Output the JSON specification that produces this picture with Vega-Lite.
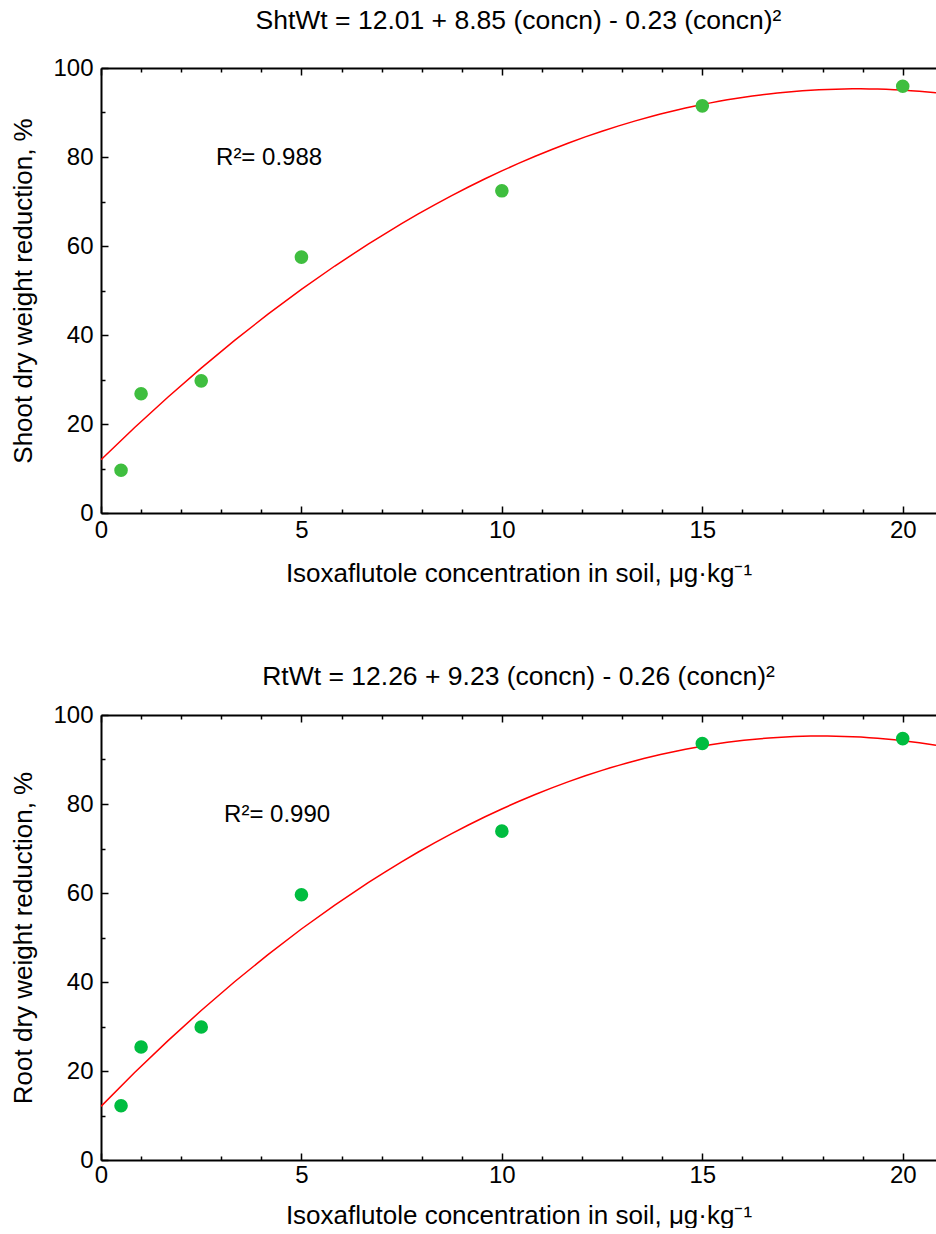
{
  "$schema": "https://vega.github.io/schema/vega-lite/v6.json",
  "padding": {"left": 10, "top": 7, "right": 0, "bottom": 0},
  "background": "white",
  "config": {
    "font": "Liberation Sans",
    "view": {"stroke": null},
    "axis": {"grid": false, "domainColor": "black", "domainWidth": 2, "tickColor": "black", "tickWidth": 1.5, "labelColor": "black", "titleColor": "black", "labelFont": "Liberation Sans", "titleFont": "Liberation Sans", "labelFontSize": 24, "titleFontSize": 26, "titleFontWeight": "normal", "labelFlush": false, "labelOverlap": false},
    "title": {"font": "Liberation Sans", "fontSize": 26.5, "fontWeight": "normal", "color": "black", "anchor": "middle"}
  },
  "datasets": {
    "shootData": [
      {"concn": 0.5, "reduction": 9.6},
      {"concn": 1, "reduction": 26.8},
      {"concn": 2.5, "reduction": 29.7},
      {"concn": 5, "reduction": 57.5},
      {"concn": 10, "reduction": 72.4},
      {"concn": 15, "reduction": 91.5},
      {"concn": 20, "reduction": 95.9}
    ],
    "rootData": [
      {"concn": 0.5, "reduction": 12.2},
      {"concn": 1, "reduction": 25.4},
      {"concn": 2.5, "reduction": 29.9},
      {"concn": 5, "reduction": 59.6},
      {"concn": 10, "reduction": 73.9},
      {"concn": 15, "reduction": 93.6},
      {"concn": 20, "reduction": 94.7}
    ],
    "shootNote": [{"label": "R²= 0.988", "concn": 2.87, "reduction": 79.8}],
    "rootNote": [{"label": "R²= 0.990", "concn": 3.07, "reduction": 77.6}]
  },
  "spacing": 77,
  "vconcat": [
    {
      "data": {"name": "shootData"},
      "title": {"text": "ShtWt = 12.01 + 8.85 (concn) - 0.23 (concn)²", "offset": 22},
      "width": 835,
      "height": 445,
      "encoding": {
        "y": {"field": "reduction", "type": "quantitative", "scale": {"domain": [0, 100], "nice": false, "zero": false},
          "axis": {"orient": "left", "values": [0,10,20,30,40,50,60,70,80,90,100], "labelExpr": "datum.value % 20 === 0 ? datum.label : ''", "tickSize": {"condition": {"test": "datum.value % 20 === 0", "value": -7}, "value": -4}, "labelPadding": 15, "title": "Shoot dry weight reduction, %", "titlePadding": 16}}
      },
      "layer": [
        {
          "transform": [{"regression": "reduction", "on": "concn", "method": "poly", "order": 2, "extent": [0, 20.83]}],
          "mark": {"type": "line", "color": "#ff0000", "strokeWidth": 1.5, "clip": true},
          "encoding": {
            "x": {"field": "concn", "type": "quantitative", "scale": {"domain": [0, 20.83], "nice": false, "zero": false},
              "axis": {"orient": "top", "values": [0,1,2,3,4,5,6,7,8,9,10,11,12,13,14,15,16,17,18,19,20], "labels": false, "title": null, "tickSize": {"condition": {"test": "datum.value % 5 === 0", "value": -7}, "value": -4}}}
          }
        },
        {
          "mark": {"type": "circle", "size": 185, "opacity": 1, "color": "#3fbe3f"},
          "encoding": {
            "x": {"field": "concn", "type": "quantitative", "scale": {"domain": [0, 20.83], "nice": false, "zero": false},
              "axis": {"orient": "bottom", "values": [0,1,2,3,4,5,6,7,8,9,10,11,12,13,14,15,16,17,18,19,20], "labelExpr": "datum.value % 5 === 0 ? datum.label : ''", "tickSize": {"condition": {"test": "datum.value % 5 === 0", "value": -7}, "value": -4}, "labelPadding": 12, "title": "Isoxaflutole concentration in soil, μg·kg⁻¹", "titlePadding": 15}}
          }
        },
        {
          "data": {"name": "shootNote"},
          "mark": {"type": "text", "align": "left", "baseline": "middle", "fontSize": 24, "font": "Liberation Sans", "color": "black"},
          "encoding": {
            "x": {"field": "concn", "type": "quantitative", "axis": null},
            "y": {"field": "reduction", "type": "quantitative"},
            "text": {"field": "label", "type": "nominal"}
          }
        }
      ],
      "resolve": {"axis": {"x": "independent"}}
    },
    {
      "data": {"name": "rootData"},
      "title": {"text": "RtWt = 12.26 + 9.23 (concn) - 0.26 (concn)²", "offset": 13},
      "width": 835,
      "height": 445,
      "encoding": {
        "y": {"field": "reduction", "type": "quantitative", "scale": {"domain": [0, 100], "nice": false, "zero": false},
          "axis": {"orient": "left", "values": [0,10,20,30,40,50,60,70,80,90,100], "labelExpr": "datum.value % 20 === 0 ? datum.label : ''", "tickSize": {"condition": {"test": "datum.value % 20 === 0", "value": -7}, "value": -4}, "labelPadding": 15, "title": "Root dry weight reduction, %", "titlePadding": 16}}
      },
      "layer": [
        {
          "transform": [{"regression": "reduction", "on": "concn", "method": "poly", "order": 2, "extent": [0, 20.83]}],
          "mark": {"type": "line", "color": "#ff0000", "strokeWidth": 1.5, "clip": true},
          "encoding": {
            "x": {"field": "concn", "type": "quantitative", "scale": {"domain": [0, 20.83], "nice": false, "zero": false},
              "axis": {"orient": "top", "values": [0,1,2,3,4,5,6,7,8,9,10,11,12,13,14,15,16,17,18,19,20], "labels": false, "title": null, "tickSize": {"condition": {"test": "datum.value % 5 === 0", "value": -7}, "value": -4}}}
          }
        },
        {
          "mark": {"type": "circle", "size": 185, "opacity": 1, "color": "#00bd40"},
          "encoding": {
            "x": {"field": "concn", "type": "quantitative", "scale": {"domain": [0, 20.83], "nice": false, "zero": false},
              "axis": {"orient": "bottom", "values": [0,1,2,3,4,5,6,7,8,9,10,11,12,13,14,15,16,17,18,19,20], "labelExpr": "datum.value % 5 === 0 ? datum.label : ''", "tickSize": {"condition": {"test": "datum.value % 5 === 0", "value": -7}, "value": -4}, "labelPadding": 10, "title": "Isoxaflutole concentration in soil, μg·kg⁻¹", "titlePadding": 12}}
          }
        },
        {
          "data": {"name": "rootNote"},
          "mark": {"type": "text", "align": "left", "baseline": "middle", "fontSize": 24, "font": "Liberation Sans", "color": "black"},
          "encoding": {
            "x": {"field": "concn", "type": "quantitative", "axis": null},
            "y": {"field": "reduction", "type": "quantitative"},
            "text": {"field": "label", "type": "nominal"}
          }
        }
      ],
      "resolve": {"axis": {"x": "independent"}}
    }
  ]
}
